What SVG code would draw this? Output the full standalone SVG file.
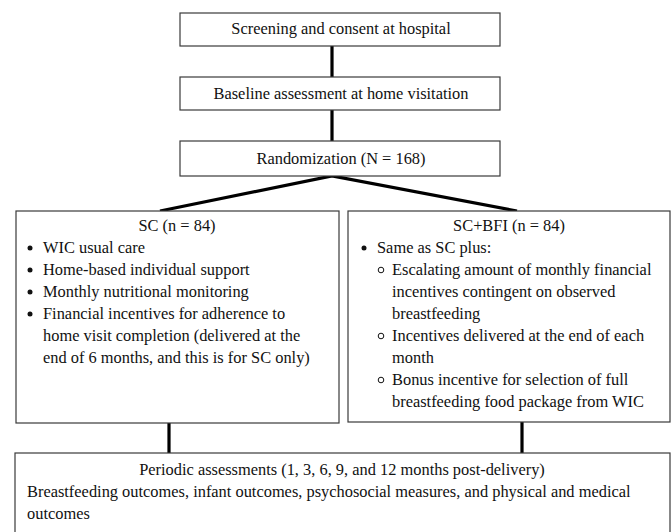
<svg xmlns="http://www.w3.org/2000/svg" width="672" height="532" viewBox="0 0 672 532">
<style>
.box{fill:#fff;stroke:#3a3a3a;stroke-width:1.2}
.t{font-family:"Liberation Serif","Times New Roman",serif;font-size:16.4px;fill:#111}
.c{text-anchor:middle}
.con{stroke:#000;stroke-width:3.2;fill:none}
.dot{fill:#111}
.ring{fill:none;stroke:#111;stroke-width:1}
</style>
<rect width="672" height="532" fill="#fff"/>
<g id="connectors">
<line class="con" x1="332" y1="46" x2="332" y2="77"/>
<line class="con" x1="332" y1="110" x2="332" y2="141"/>
<polyline class="con" points="160,211 332,176 517,211"/>
<line class="con" x1="169" y1="423" x2="169" y2="453"/>
<line class="con" x1="522" y1="422" x2="522" y2="453"/>
</g>
<g id="screening">
<rect class="box" x="180" y="13" width="320" height="33"/>
<text class="t c" x="341" y="34">Screening and consent at hospital</text>
</g>
<g id="baseline">
<rect class="box" x="180" y="77" width="320" height="33"/>
<text class="t c" x="341" y="99">Baseline assessment at home visitation</text>
</g>
<g id="randomization">
<rect class="box" x="180" y="141" width="320" height="35"/>
<text class="t c" x="341" y="164">Randomization (N = 168)</text>
</g>
<g id="sc">
<rect class="box" x="16" y="211" width="323" height="212"/>
<text class="t c" x="177" y="231">SC (n = 84)</text>
<circle class="dot" cx="30" cy="248" r="2.5"/>
<text class="t" x="43" y="253">WIC usual care</text>
<circle class="dot" cx="30" cy="270" r="2.5"/>
<text class="t" x="43" y="275">Home-based individual support</text>
<circle class="dot" cx="30" cy="292" r="2.5"/>
<text class="t" x="43" y="297">Monthly nutritional monitoring</text>
<circle class="dot" cx="30" cy="314" r="2.5"/>
<text class="t" x="43" y="319">Financial incentives for adherence to</text>
<text class="t" x="43" y="341">home visit completion (delivered at the</text>
<text class="t" x="43" y="363">end of 6 months, and this is for SC only)</text>
</g>
<g id="scbfi">
<rect class="box" x="348" y="211" width="322" height="211"/>
<text class="t c" x="509" y="231">SC+BFI (n = 84)</text>
<circle class="dot" cx="364" cy="248" r="2.5"/>
<text class="t" x="377" y="253">Same as SC plus:</text>
<circle class="ring" cx="381" cy="270" r="2.8"/>
<text class="t" x="392" y="275">Escalating amount of monthly financial</text>
<text class="t" x="392" y="297">incentives contingent on observed</text>
<text class="t" x="392" y="319">breastfeeding</text>
<circle class="ring" cx="381" cy="336" r="2.8"/>
<text class="t" x="392" y="341">Incentives delivered at the end of each</text>
<text class="t" x="392" y="363">month</text>
<circle class="ring" cx="381" cy="380" r="2.8"/>
<text class="t" x="392" y="385">Bonus incentive for selection of full</text>
<text class="t" x="392" y="407">breastfeeding food package from WIC</text>
</g>
<g id="assessments">
<rect class="box" x="15" y="453" width="655" height="100"/>
<text class="t c" x="342" y="475">Periodic assessments (1, 3, 6, 9, and 12 months post-delivery)</text>
<text class="t" x="27" y="497">Breastfeeding outcomes, infant outcomes, psychosocial measures, and physical and medical</text>
<text class="t" x="27" y="519">outcomes</text>
</g>
</svg>
